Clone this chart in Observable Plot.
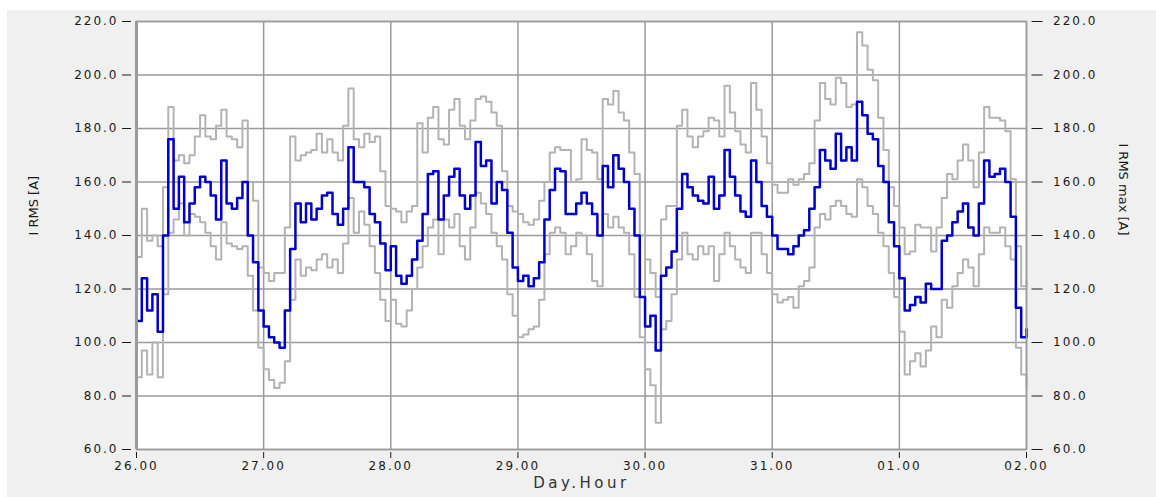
<!DOCTYPE html>
<html>
<head>
<meta charset="utf-8">
<script src="https://cdn.jsdelivr.net/npm/d3@7"></script>
<script src="https://cdn.jsdelivr.net/npm/@observablehq/plot@0.6"></script>
<style>
  html, body { margin: 0; padding: 0; background: #ffffff; }
  #chart { position: absolute; left: 7px; top: 10px; }
  #chart svg [aria-label$="tick label"] { letter-spacing: 2px; }
</style>
</head>
<body>
<div id="chart"></div>
<script>
// X axis: hours since 26.00, one tick per day
const dayLabels = ["26.00", "27.00", "28.00", "29.00", "30.00", "31.00", "01.00", "02.00"];
const dayTicks = [0, 24, 48, 72, 96, 120, 144, 168];
const yTicks = [60, 80, 100, 120, 140, 160, 180, 200, 220];

// I RMS [A] (blue), hourly
const iRms = [
  108, 124, 112, 118, 104, 140, 176, 150, 162, 145, 152, 158, 162, 160, 155, 146, 168, 152, 150, 154, 160, 140, 130, 112,
  106, 102, 100, 98, 112, 135, 152, 145, 152, 146, 150, 155, 156, 148, 144, 150, 173, 160, 160, 158, 148, 145, 137, 127,
  136, 125, 122, 125, 131, 138, 148, 163, 164, 146, 155, 162, 165, 155, 150, 155, 175, 166, 168, 152, 160, 157, 141, 128,
  123, 125, 121, 124, 130, 146, 157, 165, 164, 148, 148, 152, 156, 152, 148, 140, 166, 158, 170, 165, 160, 150, 140, 117,
  106, 110, 97, 125, 128, 134, 150, 163, 158, 155, 153, 152, 162, 150, 155, 172, 162, 155, 149, 147, 168, 160, 151, 147,
  140, 135, 135, 133, 136, 140, 142, 150, 158, 172, 168, 165, 178, 168, 173, 168, 190, 185, 178, 176, 166, 160, 145, 136,
  124, 112, 114, 117, 115, 122, 120, 120, 138, 140, 145, 149, 152, 143, 140, 152, 168, 162, 163, 165, 160, 147, 113, 102,
  105
];

// I RMS max [A] (grey), upper trace, hourly
const iRmsMaxHigh = [
  132, 150, 138, 140, 136, 158, 188, 168, 170, 167, 170, 177, 185, 177, 176, 181, 187, 177, 176, 173, 183, 160, 153, 128,
  126, 123, 126, 126, 143, 177, 168, 170, 171, 172, 178, 171, 176, 171, 168, 181, 195, 176, 173, 178, 175, 177, 164, 151,
  150, 149, 145, 149, 151, 182, 171, 184, 188, 176, 174, 187, 191, 181, 176, 183, 191, 192, 190, 186, 181, 164, 151, 149,
  148, 145, 144, 146, 153, 160, 171, 173, 172, 172, 160, 161, 176, 172, 171, 161, 191, 189, 194, 186, 183, 171, 163, 140,
  131, 126, 117, 146, 151, 151, 181, 187, 177, 173, 177, 179, 184, 183, 177, 196, 186, 179, 174, 171, 197, 187, 177, 167,
  159, 156, 156, 161, 159, 161, 163, 167, 183, 197, 191, 189, 199, 197, 188, 189, 216, 211, 202, 198, 184, 172, 158, 151,
  143, 133, 134, 144, 143, 143, 134, 143, 154, 163, 161, 168, 174, 168, 158, 171, 188, 184, 184, 183, 179, 161, 136, 121,
  123
];

// I RMS max [A] (grey), lower trace, hourly
const iRmsMaxLow = [
  87, 97, 88, 100, 87, 118, 141, 146, 152, 140, 148, 147, 145, 141, 136, 131, 145, 137, 136, 135, 136, 125, 112, 98,
  90, 86, 83, 85, 93, 116, 131, 125, 128, 127, 131, 133, 128, 131, 126, 137, 154, 141, 149, 144, 136, 126, 116, 108,
  116, 107, 106, 112, 120, 128, 136, 143, 146, 133, 146, 143, 148, 136, 131, 143, 156, 152, 148, 141, 136, 131, 118, 110,
  102, 103, 105, 106, 116, 133, 141, 143, 141, 133, 136, 141, 140, 133, 123, 121, 148, 143, 147, 143, 141, 133, 117, 102,
  90, 84, 70, 105, 108, 118, 131, 141, 133, 131, 136, 133, 136, 123, 133, 141, 136, 131, 128, 126, 141, 141, 133, 126,
  118, 115, 116, 117, 113, 121, 123, 128, 143, 148, 146, 151, 153, 151, 148, 147, 161, 158, 151, 148, 141, 136, 126, 117,
  104, 88, 93, 96, 91, 97, 106, 102, 116, 113, 121, 126, 131, 128, 121, 133, 143, 141, 141, 143, 136, 131, 98, 88,
  83
];

const rows = iRms.map((v, i) => ({ h: i, blue: v, hi: iRmsMaxHigh[i], lo: iRmsMaxLow[i] }));
const fmt = d => d.toFixed(1);
const font = "'DejaVu Sans', sans-serif";

const chart = Plot.plot({
  width: 1149,
  height: 487,
  marginLeft: 129,
  marginRight: 130,
  marginTop: 11,
  marginBottom: 48,
  style: { background: "#f0f0f0", fontFamily: font, fontSize: "12px", color: "#1a1a1a" },
  x: { domain: [0, 168] },
  y: { domain: [60, 220] },
  marks: [
    Plot.frame({ fill: "#ffffff", stroke: null }),
    Plot.ruleY(yTicks, { stroke: "#9a9a9a", strokeWidth: 1.5 }),
    Plot.ruleX(dayTicks, { stroke: "#9a9a9a", strokeWidth: 1.5 }),
    Plot.line(rows, { x: "h", y: "hi", curve: "step-after", stroke: "#b3b3b3", strokeWidth: 2 }),
    Plot.line(rows, { x: "h", y: "lo", curve: "step-after", stroke: "#b3b3b3", strokeWidth: 2 }),
    Plot.line(rows, { x: "h", y: "blue", curve: "step-after", stroke: "#0000cc", strokeWidth: 2.5 }),
    Plot.frame({ stroke: "#9a9a9a", strokeWidth: 1.5 }),
    Plot.ruleX([0], { stroke: "#9a9a9a", strokeWidth: 3 }),
    Plot.axisY(yTicks, { anchor: "left", tickFormat: fmt, tickSize: 9, tickPadding: 4, dx: -5, label: null }),
    Plot.axisY(yTicks, { anchor: "right", tickFormat: fmt, tickSize: 11, tickPadding: 11, dx: 4.5, label: null }),
    Plot.axisX(dayTicks, { anchor: "bottom", tickFormat: d => dayLabels[d / 24], tickSize: 6, tickPadding: 3, dy: 3, label: null }),
    Plot.text(["I RMS [A]"], { text: d => d, frameAnchor: "left", dx: -103, rotate: -90, fontSize: 13, fill: "#1a1a1a" }),
    Plot.text(["I RMS max [A]"], { text: d => d, frameAnchor: "right", dx: 97, rotate: 90, fontSize: 13, fill: "#1a1a1a" }),
    Plot.text(["Day.Hour"], { text: d => d, frameAnchor: "bottom", dy: 38, fontSize: 15, fill: "#333333" })
  ]
});

document.getElementById("chart").appendChild(chart);
d3.select(chart).selectAll("text").filter(function () { return this.textContent === "Day.Hour"; })
  .style("letter-spacing", "3.5px");
</script>
</body>
</html>
